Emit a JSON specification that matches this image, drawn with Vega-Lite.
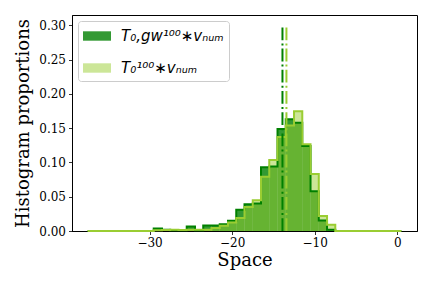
{
"$schema": "https://vega.github.io/schema/vega-lite/v6.json",
"width": 345, "height": 216,
"autosize": "none",
"padding": {"left": 72, "top": 15, "right": 15, "bottom": 57},
"datasets": {
"hist": [
{"series":"gw","bin_start":-37.5,"bin_end":-36.5,"value":0},
{"series":"gw","bin_start":-36.5,"bin_end":-35.5,"value":0},
{"series":"gw","bin_start":-35.5,"bin_end":-34.5,"value":0},
{"series":"gw","bin_start":-34.5,"bin_end":-33.5,"value":0},
{"series":"gw","bin_start":-33.5,"bin_end":-32.5,"value":0},
{"series":"gw","bin_start":-32.5,"bin_end":-31.5,"value":0},
{"series":"gw","bin_start":-31.5,"bin_end":-30.5,"value":0},
{"series":"gw","bin_start":-30.5,"bin_end":-29.5,"value":0},
{"series":"gw","bin_start":-29.5,"bin_end":-28.5,"value":0.0035},
{"series":"gw","bin_start":-28.5,"bin_end":-27.5,"value":0.002},
{"series":"gw","bin_start":-27.5,"bin_end":-26.5,"value":0.001},
{"series":"gw","bin_start":-26.5,"bin_end":-25.5,"value":0.001},
{"series":"gw","bin_start":-25.5,"bin_end":-24.5,"value":0.0066},
{"series":"gw","bin_start":-24.5,"bin_end":-23.5,"value":0.001},
{"series":"gw","bin_start":-23.5,"bin_end":-22.5,"value":0.008},
{"series":"gw","bin_start":-22.5,"bin_end":-21.5,"value":0.008},
{"series":"gw","bin_start":-21.5,"bin_end":-20.5,"value":0.010},
{"series":"gw","bin_start":-20.5,"bin_end":-19.5,"value":0.0148},
{"series":"gw","bin_start":-19.5,"bin_end":-18.5,"value":0.031},
{"series":"gw","bin_start":-18.5,"bin_end":-17.5,"value":0.039},
{"series":"gw","bin_start":-17.5,"bin_end":-16.5,"value":0.040},
{"series":"gw","bin_start":-16.5,"bin_end":-15.5,"value":0.093},
{"series":"gw","bin_start":-15.5,"bin_end":-14.5,"value":0.094},
{"series":"gw","bin_start":-14.5,"bin_end":-13.5,"value":0.1486},
{"series":"gw","bin_start":-13.5,"bin_end":-12.5,"value":0.163},
{"series":"gw","bin_start":-12.5,"bin_end":-11.5,"value":0.158},
{"series":"gw","bin_start":-11.5,"bin_end":-10.5,"value":0.124},
{"series":"gw","bin_start":-10.5,"bin_end":-9.5,"value":0.058},
{"series":"gw","bin_start":-9.5,"bin_end":-8.5,"value":0.0154},
{"series":"gw","bin_start":-8.5,"bin_end":-7.5,"value":0.002},
{"series":"gw","bin_start":-7.5,"bin_end":-6.5,"value":0},
{"series":"gw","bin_start":-6.5,"bin_end":-5.5,"value":0},
{"series":"gw","bin_start":-5.5,"bin_end":-4.5,"value":0},
{"series":"gw","bin_start":-4.5,"bin_end":-3.5,"value":0},
{"series":"gw","bin_start":-3.5,"bin_end":-2.5,"value":0},
{"series":"gw","bin_start":-2.5,"bin_end":-1.5,"value":0},
{"series":"gw","bin_start":-1.5,"bin_end":-0.5,"value":0},
{"series":"gw","bin_start":-0.5,"bin_end":0.5,"value":0},
{"series":"t0","bin_start":-37.5,"bin_end":-36.5,"value":0},
{"series":"t0","bin_start":-36.5,"bin_end":-35.5,"value":0},
{"series":"t0","bin_start":-35.5,"bin_end":-34.5,"value":0},
{"series":"t0","bin_start":-34.5,"bin_end":-33.5,"value":0},
{"series":"t0","bin_start":-33.5,"bin_end":-32.5,"value":0},
{"series":"t0","bin_start":-32.5,"bin_end":-31.5,"value":0},
{"series":"t0","bin_start":-31.5,"bin_end":-30.5,"value":0},
{"series":"t0","bin_start":-30.5,"bin_end":-29.5,"value":0},
{"series":"t0","bin_start":-29.5,"bin_end":-28.5,"value":0.001},
{"series":"t0","bin_start":-28.5,"bin_end":-27.5,"value":0.0015},
{"series":"t0","bin_start":-27.5,"bin_end":-26.5,"value":0.002},
{"series":"t0","bin_start":-26.5,"bin_end":-25.5,"value":0.0015},
{"series":"t0","bin_start":-25.5,"bin_end":-24.5,"value":0.002},
{"series":"t0","bin_start":-24.5,"bin_end":-23.5,"value":0.002},
{"series":"t0","bin_start":-23.5,"bin_end":-22.5,"value":0.002},
{"series":"t0","bin_start":-22.5,"bin_end":-21.5,"value":0.0045},
{"series":"t0","bin_start":-21.5,"bin_end":-20.5,"value":0.0075},
{"series":"t0","bin_start":-20.5,"bin_end":-19.5,"value":0.0125},
{"series":"t0","bin_start":-19.5,"bin_end":-18.5,"value":0.019},
{"series":"t0","bin_start":-18.5,"bin_end":-17.5,"value":0.035},
{"series":"t0","bin_start":-17.5,"bin_end":-16.5,"value":0.045},
{"series":"t0","bin_start":-16.5,"bin_end":-15.5,"value":0.079},
{"series":"t0","bin_start":-15.5,"bin_end":-14.5,"value":0.1035},
{"series":"t0","bin_start":-14.5,"bin_end":-13.5,"value":0.137},
{"series":"t0","bin_start":-13.5,"bin_end":-12.5,"value":0.154},
{"series":"t0","bin_start":-12.5,"bin_end":-11.5,"value":0.1745},
{"series":"t0","bin_start":-11.5,"bin_end":-10.5,"value":0.1266},
{"series":"t0","bin_start":-10.5,"bin_end":-9.5,"value":0.083},
{"series":"t0","bin_start":-9.5,"bin_end":-8.5,"value":0.0217},
{"series":"t0","bin_start":-8.5,"bin_end":-7.5,"value":0.0091},
{"series":"t0","bin_start":-7.5,"bin_end":-6.5,"value":0},
{"series":"t0","bin_start":-6.5,"bin_end":-5.5,"value":0},
{"series":"t0","bin_start":-5.5,"bin_end":-4.5,"value":0},
{"series":"t0","bin_start":-4.5,"bin_end":-3.5,"value":0},
{"series":"t0","bin_start":-3.5,"bin_end":-2.5,"value":0},
{"series":"t0","bin_start":-2.5,"bin_end":-1.5,"value":0},
{"series":"t0","bin_start":-1.5,"bin_end":-0.5,"value":0},
{"series":"t0","bin_start":-0.5,"bin_end":0.5,"value":0}
],
"means": [
{"series":"gw","mean":-13.9},
{"series":"t0","mean":-13.42}
]
},
"config": {
"view": {"stroke": "black", "strokeWidth": 1},
"axis": {
"grid": false,
"labelFont": "DejaVu Serif", "labelFontSize": 12, "labelColor": "black",
"titleFont": "DejaVu Serif", "titleFontSize": 18, "titleFontWeight": "normal", "titleColor": "black",
"domainColor": "black", "domainWidth": 1,
"tickColor": "black", "tickSize": 3.5, "tickWidth": 0.8, "labelPadding": 3,
"labelOverlap": false, "labelBound": false, "labelFlush": false,
"zindex": 1
},
"axisX": {"tickCount": 5, "titlePadding": 3},
"axisY": {"tickCount": 7, "format": ".2f", "titlePadding": 6},
"legend": {
"orient": "top-left", "offset": 6, "padding": 5,
"strokeColor": "#cccccc", "strokeWidth": 1, "cornerRadius": 3, "fillColor": "rgba(255,255,255,0.8)",
"labelFont": "DejaVu Sans", "labelFontStyle": "italic", "labelFontSize": 15, "labelColor": "black", "labelLimit": 300,
"symbolType": "M-1,-0.47H1.8V0.47H-1Z", "symbolSize": 400, "symbolStrokeWidth": 0,
"labelOffset": 18, "rowPadding": 14
}
},
"layer": [
{
"data": {"name": "hist"},
"mark": {"type": "rect"},
"encoding": {
"x": {"field": "bin_start", "type": "quantitative", "scale": {"domain": [-39.4, 2.4], "nice": false, "zero": false},
"title": "Space"},
"x2": {"field": "bin_end"},
"y": {"field": "value", "type": "quantitative", "scale": {"domain": [0, 0.315], "nice": false},
"title": "Histogram proportions"},
"y2": {"datum": 0},
"color": {"field": "series", "type": "nominal",
"scale": {"domain": ["gw", "t0"], "range": ["green", "yellowgreen"]},
"legend": {"title": null, "labelExpr": "datum.label === 'gw' ? 'T₀,gw¹⁰⁰∗vₙᵤₘ' : 'T₀¹⁰⁰∗vₙᵤₘ'"}},
"opacity": {"field": "series", "type": "nominal",
"scale": {"domain": ["gw", "t0"], "range": [0.8, 0.5]},
"legend": {"title": null, "labelExpr": "datum.label === 'gw' ? 'T₀,gw¹⁰⁰∗vₙᵤₘ' : 'T₀¹⁰⁰∗vₙᵤₘ'"}}
}
},
{
"data": {"name": "hist"},
"transform": [{"filter": "datum.series === 'gw'"}, {"fold": ["bin_start", "bin_end"], "as": ["edge", "xpos"]}],
"mark": {"type": "line", "color": "green", "strokeWidth": 2},
"encoding": {
"x": {"field": "xpos", "type": "quantitative", "title": "Space"},
"y": {"field": "value", "type": "quantitative", "title": "Histogram proportions"},
"order": [{"field": "xpos", "type": "quantitative"}, {"field": "edge", "type": "ordinal"}]
}
},
{
"data": {"name": "hist"},
"transform": [{"filter": "datum.series === 't0'"}, {"fold": ["bin_start", "bin_end"], "as": ["edge", "xpos"]}],
"mark": {"type": "line", "color": "yellowgreen", "strokeWidth": 2},
"encoding": {
"x": {"field": "xpos", "type": "quantitative", "title": "Space"},
"y": {"field": "value", "type": "quantitative", "title": "Histogram proportions"},
"order": [{"field": "xpos", "type": "quantitative"}, {"field": "edge", "type": "ordinal"}]
}
},
{
"data": {"name": "means"},
"transform": [{"filter": "datum.series === 'gw'"}],
"mark": {"type": "rule", "color": "green", "strokeWidth": 2, "strokeDash": [12.8, 3.2, 2, 3.2]},
"encoding": {
"x": {"field": "mean", "type": "quantitative", "title": "Space"},
"y": {"datum": 0, "type": "quantitative", "title": "Histogram proportions"},
"y2": {"datum": 0.3}
}
},
{
"data": {"name": "means"},
"transform": [{"filter": "datum.series === 't0'"}],
"mark": {"type": "rule", "color": "yellowgreen", "strokeWidth": 2, "strokeDash": [12.8, 3.2, 2, 3.2]},
"encoding": {
"x": {"field": "mean", "type": "quantitative", "title": "Space"},
"y": {"datum": 0, "type": "quantitative", "title": "Histogram proportions"},
"y2": {"datum": 0.3}
}
}
]
}
